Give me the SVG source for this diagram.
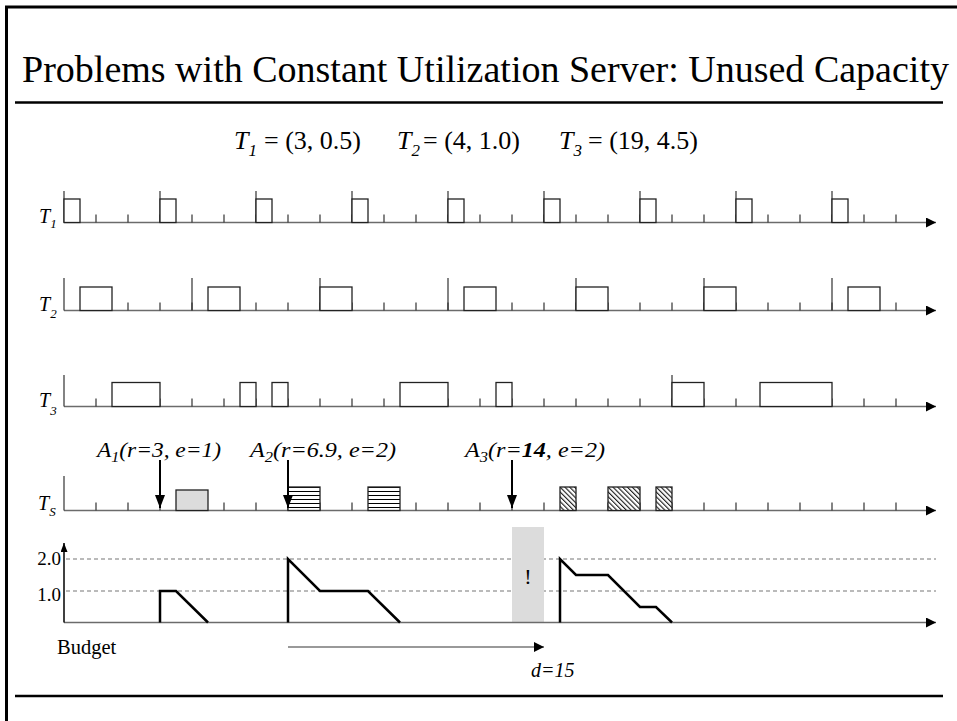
<svg xmlns="http://www.w3.org/2000/svg" width="957" height="721" viewBox="0 0 957 721" font-family="'Liberation Serif','Times New Roman',Times,serif">
<style>
text{font-family:"Liberation Serif","Times New Roman",Times,serif;fill:#000}
.it{font-style:italic}
.lab{font-size:20px;font-style:italic}
.lsub{font-size:13px;font-style:italic}
.eq{font-size:26px}
.eqs{font-size:17px;font-style:italic}
.al{font-size:22px;font-style:italic}
.als{font-size:15px;font-style:italic}
.axis{stroke:#6b6b6b;stroke-width:1.5;fill:none}
.tick{stroke:#333;stroke-width:1.2;fill:none}
.box{stroke:#222;stroke-width:1.3;fill:#fff}
.dash{stroke:#777;stroke-width:1.2;stroke-dasharray:4 3;fill:none}
.curve{stroke:#000;stroke-width:2.5;fill:none;stroke-linejoin:miter}
.rule{stroke:#000;stroke-width:2.5;fill:none}
</style>
<defs>
<marker id="ah" viewBox="0 0 10 10" refX="10" refY="5" markerWidth="10" markerHeight="10" markerUnits="userSpaceOnUse" orient="auto"><path d="M0,0L10,5L0,10z" fill="#000"/></marker>
<marker id="ahd" viewBox="0 0 13 10" refX="13" refY="5" markerWidth="13" markerHeight="10" markerUnits="userSpaceOnUse" orient="auto"><path d="M0,0L13,5L0,10z" fill="#000"/></marker>
<marker id="ahs" viewBox="0 0 9 7" refX="9" refY="3.5" markerWidth="9" markerHeight="7" markerUnits="userSpaceOnUse" orient="auto"><path d="M0,0L9,3.5L0,7z" fill="#000"/></marker>
<pattern id="hstripe" patternUnits="userSpaceOnUse" x="0" y="487" width="8" height="4"><rect width="8" height="4" fill="#fff"/><path d="M0,0.5H8" stroke="#000" stroke-width="1"/></pattern>
<pattern id="hatch" patternUnits="userSpaceOnUse" width="3.4" height="8" patternTransform="rotate(-45)"><rect width="3.4" height="8" fill="#fff"/><path d="M0.6,0V8" stroke="#000" stroke-width="1"/></pattern>
</defs>

<rect width="957" height="721" fill="#fff"/>
<path d="M6.5,721V7H957" stroke="#000" stroke-width="3" fill="none"/>
<text x="22" y="82" font-size="37" textLength="927" lengthAdjust="spacingAndGlyphs">Problems with Constant Utilization Server: Unused Capacity</text>
<path class="rule" d="M15,102.5H943"/>
<path class="rule" d="M15,696H943"/>

<g id="params">
<text x="234" y="149" class="eq it">T<tspan class="eqs" dy="7">1</tspan></text>
<text x="264" y="149" class="eq">= (3, 0.5)</text>
<text x="397" y="149" class="eq it">T<tspan class="eqs" dy="7">2</tspan></text>
<text x="423" y="149" class="eq">= (4, 1.0)</text>
<text x="559" y="149" class="eq it">T<tspan class="eqs" dy="7">3</tspan></text>
<text x="588" y="149" class="eq">= (19, 4.5)</text>
</g>

<g id="row-T1">
<text x="39" y="223" class="lab">T<tspan class="lsub" dy="5">1</tspan></text>
<path class="axis" d="M64,222.5H936" marker-end="url(#ah)"/>
<path class="tick" d="M96,222.5v-8m32,8v-8m32,8v-8m32,8v-8m32,8v-8m32,8v-8m32,8v-8m32,8v-8m32,8v-8m32,8v-8m32,8v-8m32,8v-8m32,8v-8m32,8v-8m32,8v-8m32,8v-8m32,8v-8m32,8v-8m32,8v-8m32,8v-8m32,8v-8m32,8v-8m32,8v-8m32,8v-8m32,8v-8m32,8v-8"/>
<path class="tick" d="M64,222.5V191M160,222.5V191M256,222.5V191M352,222.5V191M448,222.5V191M544,222.5V191M640,222.5V191M736,222.5V191M832,222.5V191"/>
<rect class="box" x="64" y="199" width="16" height="23.5"/>
<rect class="box" x="160" y="199" width="16" height="23.5"/>
<rect class="box" x="256" y="199" width="16" height="23.5"/>
<rect class="box" x="352" y="199" width="16" height="23.5"/>
<rect class="box" x="448" y="199" width="16" height="23.5"/>
<rect class="box" x="544" y="199" width="16" height="23.5"/>
<rect class="box" x="640" y="199" width="16" height="23.5"/>
<rect class="box" x="736" y="199" width="16" height="23.5"/>
<rect class="box" x="832" y="199" width="16" height="23.5"/>
</g>

<g id="row-T2">
<text x="39" y="311" class="lab">T<tspan class="lsub" dy="7">2</tspan></text>
<path class="axis" d="M64,310.5H936" marker-end="url(#ah)"/>
<path class="tick" d="M96,310.5v-8m32,8v-8m32,8v-8m32,8v-8m32,8v-8m32,8v-8m32,8v-8m32,8v-8m32,8v-8m32,8v-8m32,8v-8m32,8v-8m32,8v-8m32,8v-8m32,8v-8m32,8v-8m32,8v-8m32,8v-8m32,8v-8m32,8v-8m32,8v-8m32,8v-8m32,8v-8m32,8v-8m32,8v-8m32,8v-8"/>
<path class="tick" d="M64,310.5V278M192,310.5V278M320,310.5V278M448,310.5V278M576,310.5V278M704,310.5V278M832,310.5V278"/>
<rect class="box" x="80" y="287" width="32" height="23.5"/>
<rect class="box" x="208" y="287" width="32" height="23.5"/>
<rect class="box" x="320" y="287" width="32" height="23.5"/>
<rect class="box" x="464" y="287" width="32" height="23.5"/>
<rect class="box" x="576" y="287" width="32" height="23.5"/>
<rect class="box" x="704" y="287" width="32" height="23.5"/>
<rect class="box" x="848" y="287" width="32" height="23.5"/>
</g>

<g id="row-T3">
<text x="39" y="407" class="lab">T<tspan class="lsub" dy="8">3</tspan></text>
<path class="axis" d="M64,406.5H936" marker-end="url(#ah)"/>
<path class="tick" d="M96,406.5v-8m32,8v-8m32,8v-8m32,8v-8m32,8v-8m32,8v-8m32,8v-8m32,8v-8m32,8v-8m32,8v-8m32,8v-8m32,8v-8m32,8v-8m32,8v-8m32,8v-8m32,8v-8m32,8v-8m32,8v-8m32,8v-8m32,8v-8m32,8v-8m32,8v-8m32,8v-8m32,8v-8m32,8v-8m32,8v-8"/>
<path class="tick" d="M64,406.5V375M672,406.5V375"/>
<rect class="box" x="112" y="382.5" width="48" height="24"/>
<rect class="box" x="240" y="382.5" width="16" height="24"/>
<rect class="box" x="272" y="382.5" width="16" height="24"/>
<rect class="box" x="400" y="382.5" width="48" height="24"/>
<rect class="box" x="496" y="382.5" width="16" height="24"/>
<rect class="box" x="672" y="382.5" width="32" height="24"/>
<rect class="box" x="760" y="382.5" width="72" height="24"/>
</g>

<g id="row-TS">
<text x="38" y="510" class="lab">T<tspan class="lsub" dy="6">S</tspan></text>
<path class="axis" d="M64,510.5H936" marker-end="url(#ah)"/>
<path class="tick" d="M96,510.5v-8m32,8v-8m32,8v-8m32,8v-8m32,8v-8m32,8v-8m32,8v-8m32,8v-8m32,8v-8m32,8v-8m32,8v-8m32,8v-8m32,8v-8m32,8v-8m32,8v-8m32,8v-8m32,8v-8m32,8v-8m32,8v-8m32,8v-8m32,8v-8m32,8v-8m32,8v-8m32,8v-8m32,8v-8m32,8v-8"/>
<path class="tick" d="M64,510.5V476"/>
<rect x="176" y="490" width="32" height="20.5" fill="#dcdcdc" stroke="#222" stroke-width="1.3"/>
<rect x="288" y="487" width="32" height="23.5" fill="url(#hstripe)" stroke="#222" stroke-width="1.3"/>
<rect x="368" y="487" width="32" height="23.5" fill="url(#hstripe)" stroke="#222" stroke-width="1.3"/>
<rect x="560" y="487" width="16" height="23.5" fill="url(#hatch)" stroke="#222" stroke-width="1.3"/>
<rect x="608" y="487" width="32" height="23.5" fill="url(#hatch)" stroke="#222" stroke-width="1.3"/>
<rect x="656" y="487" width="16" height="23.5" fill="url(#hatch)" stroke="#222" stroke-width="1.3"/>
</g>

<g id="arrivals">
<text x="97" y="457" class="al" textLength="124" lengthAdjust="spacingAndGlyphs">A<tspan class="als" dy="5">1</tspan><tspan dy="-5">(r=3, e=1)</tspan></text>
<text x="250" y="457" class="al" textLength="146" lengthAdjust="spacingAndGlyphs">A<tspan class="als" dy="5">2</tspan><tspan dy="-5">(r=6.9, e=2)</tspan></text>
<text x="465" y="457" class="al" textLength="140" lengthAdjust="spacingAndGlyphs">A<tspan class="als" dy="5">3</tspan><tspan dy="-5">(r=</tspan><tspan font-weight="bold">14</tspan>, e=2)</text>
</g>

<g id="connectors">
<path d="M160,460V508" stroke="#000" stroke-width="2" marker-end="url(#ahd)"/>
<path d="M288,460V508" stroke="#000" stroke-width="2" marker-end="url(#ahd)"/>
<path d="M512,460V508" stroke="#000" stroke-width="2" marker-end="url(#ahd)"/>
<path d="M288,647H544" stroke="#777" stroke-width="1.5" marker-end="url(#ah)"/>
</g>

<g id="budget">
<path class="dash" d="M66,559H936M66,591H936"/>
<rect x="512" y="527" width="32" height="95.5" fill="#dcdcdc"/>
<text x="528" y="584" font-size="22" text-anchor="middle" fill="#333">!</text>
<path class="axis" d="M64,622.5H936" marker-end="url(#ah)"/>
<path d="M64,622.5V543" stroke="#000" stroke-width="1.5" marker-end="url(#ahs)"/>
<text x="61" y="565" font-size="19" text-anchor="end">2.0</text>
<text x="61" y="601" font-size="19" text-anchor="end">1.0</text>
<path class="curve" d="M160,622.5V591H176L208,622.5"/>
<path class="curve" d="M288,622.5V559L320,591H368L400,622.5"/>
<path class="curve" d="M560,622.5V559L576,575H608L640,607H656L672,622.5"/>
<text x="57" y="654" font-size="20.5">Budget</text>
<text x="531" y="677" font-size="20" class="it">d=15</text>
</g>
</svg>
